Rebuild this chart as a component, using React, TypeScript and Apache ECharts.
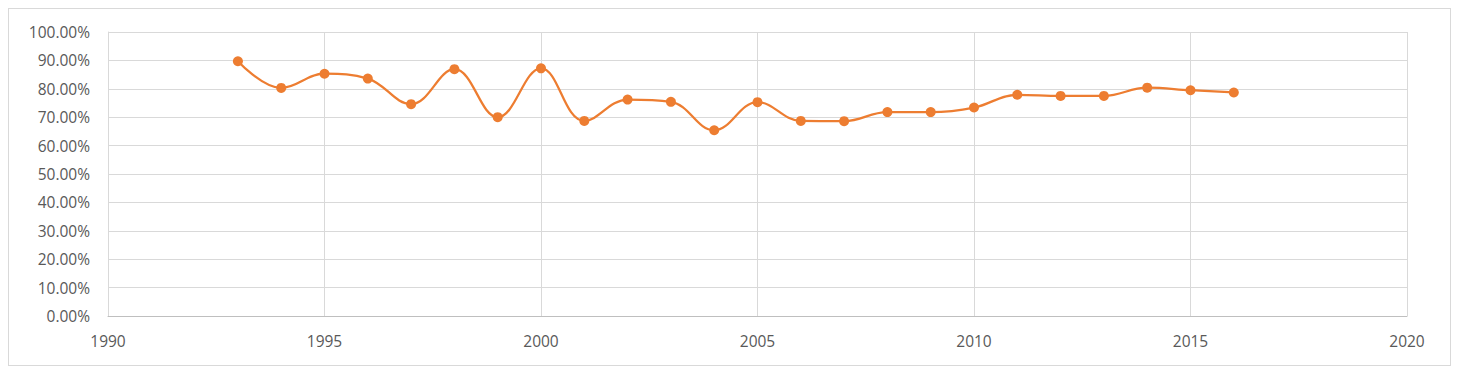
import React, { useEffect, useRef } from "react";
import * as echarts from "echarts";

const years = [1993, 1994, 1995, 1996, 1997, 1998, 1999, 2000, 2001, 2002, 2003, 2004, 2005, 2006, 2007, 2008, 2009, 2010, 2011, 2012, 2013, 2014, 2015, 2016];
const rates = [89.7, 80.3, 85.3, 83.6, 74.6, 86.9, 70.0, 87.2, 68.7, 76.2, 75.4, 65.4, 75.3, 68.7, 68.6, 71.8, 71.8, 73.4, 77.9, 77.5, 77.5, 80.4, 79.5, 78.7];
const xTicks = { min: 1990, max: 2020, interval: 5 };
const yTicks = { min: 0, max: 100, interval: 10 };

export default function App() {
  const ref = useRef<HTMLDivElement>(null);
  useEffect(() => {
    if (!ref.current) return;
    const chart = echarts.init(ref.current, undefined, { renderer: "svg" });
    const font = "'Open Sans', 'Noto Sans', sans-serif";
    chart.setOption({
      animation: false,
      backgroundColor: "#ffffff",
      grid: { left: 99, right: 43, top: 23, bottom: 49, containLabel: false },
      xAxis: {
        type: "value",
        min: xTicks.min,
        max: xTicks.max,
        interval: xTicks.interval,
        axisLine: { show: true, lineStyle: { color: "#BFBFBF", width: 1 } },
        axisTick: { show: false },
        splitLine: { show: true, lineStyle: { color: "#D9D9D9", width: 1 } },
        axisLabel: { color: "#595959", fontSize: 15.5, fontFamily: font, margin: 17, formatter: (v: number) => String(v) },
      },
      yAxis: {
        type: "value",
        min: yTicks.min,
        max: yTicks.max,
        interval: yTicks.interval,
        axisLine: { show: true, lineStyle: { color: "#D9D9D9", width: 1 } },
        axisTick: { show: false },
        splitLine: { show: true, lineStyle: { color: "#D9D9D9", width: 1 } },
        axisLabel: { color: "#595959", fontSize: 15.5, fontFamily: font, margin: 18, formatter: (v: number) => v.toFixed(2) + "%" },
      },
      series: [
        {
          type: "line",
          data: years.map((y, i) => [y, rates[i]]),
          smooth: 0.4,
          symbol: "circle",
          symbolSize: 10,
          lineStyle: { color: "#ED7D31", width: 2.25 },
          itemStyle: { color: "#ED7D31" },
        },
      ],
    });
    return () => chart.dispose();
  }, []);
  return (
    <div
      ref={ref}
      style={{ width: 1443, height: 358, border: "1px solid #D9D9D9", boxSizing: "border-box" }}
    />
  );
}
